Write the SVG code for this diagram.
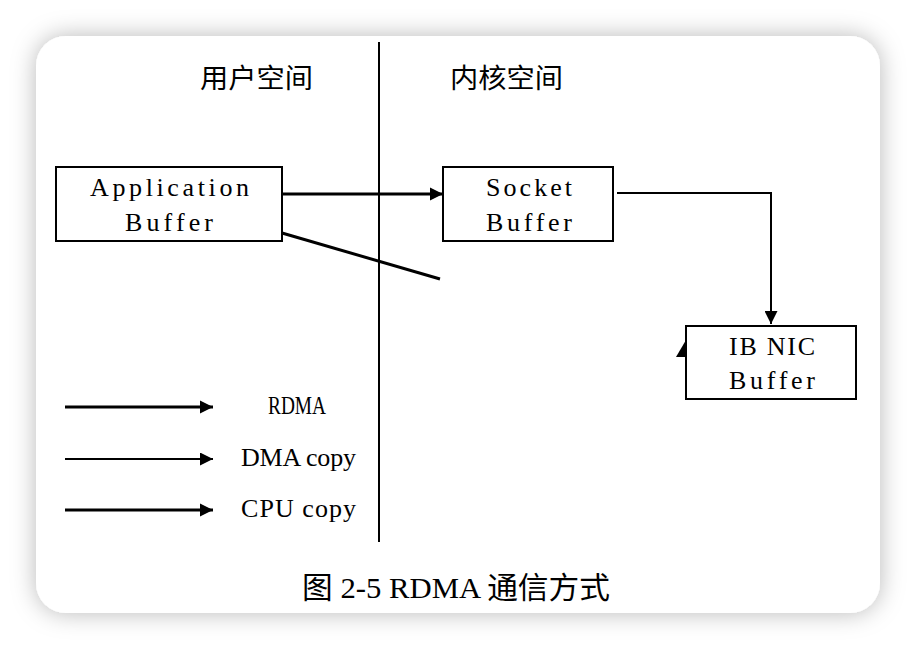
<svg xmlns="http://www.w3.org/2000/svg" width="916" height="650" viewBox="0 0 916 650">
<style>
.box{fill:#fff;stroke:#000;stroke-width:2}
.t{font-family:"Liberation Serif","Noto Sans CJK SC",serif;font-size:26px;fill:#000}
.cjk{font-family:"Noto Sans CJK SC",sans-serif;font-size:27px;fill:#000}
.cap{font-family:"Liberation Serif","Noto Sans CJK SC",serif;font-size:30px;fill:#000}
.ln{stroke:#000;fill:none}
</style>
<defs>
<filter id="sh" x="-10%" y="-10%" width="120%" height="120%">
<feDropShadow dx="0" dy="0" stdDeviation="12" flood-color="#000" flood-opacity="0.28"/>
</filter>
<marker id="ah" viewBox="0 0 10 10" refX="10" refY="5" markerWidth="4.5" markerHeight="4.5" markerUnits="strokeWidth" orient="auto">
<path d="M0,0 L10,5 L0,10 Z" fill="#000"/>
</marker>
<marker id="ah2" viewBox="0 0 10 10" refX="10" refY="5" markerWidth="6.5" markerHeight="6.5" markerUnits="strokeWidth" orient="auto">
<path d="M0,0 L10,5 L0,10 Z" fill="#000"/>
</marker>
</defs>
<rect x="0" y="0" width="916" height="650" fill="#fff"/>
<rect x="36" y="36" width="844" height="577" rx="30" ry="30" fill="#fff" filter="url(#sh)"/>

<g id="divider"><line class="ln" x1="379" y1="42" x2="379" y2="542" stroke-width="2"/></g>
<g id="label-user"><text class="cjk" x="200" y="88" textLength="113" lengthAdjust="spacingAndGlyphs">用户空间</text></g>
<g id="label-kernel"><text class="cjk" x="450" y="88" textLength="113" lengthAdjust="spacingAndGlyphs">内核空间</text></g>

<g id="app-buffer">
<rect class="box" x="56" y="167" width="226" height="74"/>
<text class="t" x="90" y="196" textLength="159" lengthAdjust="spacing">Application</text>
<text class="t" x="125" y="231" textLength="88" lengthAdjust="spacing">Buffer</text>
</g>
<g id="socket-buffer">
<rect class="box" x="443" y="167" width="170" height="74"/>
<text class="t" x="486" y="196" textLength="86" lengthAdjust="spacing">Socket</text>
<text class="t" x="486" y="231" textLength="86" lengthAdjust="spacing">Buffer</text>
</g>
<g id="nic-buffer">
<rect class="box" x="686" y="326" width="170" height="73"/>
<text class="t" x="729" y="355" textLength="86" lengthAdjust="spacing">IB NIC</text>
<text class="t" x="729" y="389" textLength="86" lengthAdjust="spacing">Buffer</text>
</g>

<g id="connectors">
<line class="ln" x1="282" y1="194" x2="443" y2="194" stroke-width="3" marker-end="url(#ah)"/>
<line class="ln" x1="282" y1="233" x2="440" y2="279" stroke-width="3"/>
<polyline class="ln" points="617,193 771,193 771,324" stroke-width="2" marker-end="url(#ah2)"/>
<path d="M676,357 L686,357 L686,340 Z" fill="#000"/>
<line class="ln" x1="65" y1="407" x2="213" y2="407" stroke-width="3" marker-end="url(#ah)"/>
<line class="ln" x1="65" y1="459" x2="213" y2="459" stroke-width="2" marker-end="url(#ah2)"/>
<line class="ln" x1="65" y1="510" x2="213" y2="510" stroke-width="3" marker-end="url(#ah)"/>
</g>

<g id="legend">
<text class="t" x="268" y="414" textLength="58" lengthAdjust="spacingAndGlyphs">RDMA</text>
<text class="t" x="241" y="466" textLength="115" lengthAdjust="spacing">DMA copy</text>
<text class="t" x="241" y="517" textLength="115" lengthAdjust="spacing">CPU copy</text>
</g>

<g id="caption"><text class="cap" x="302" y="598" textLength="308" lengthAdjust="spacingAndGlyphs">图 2-5 RDMA 通信方式</text></g>
</svg>
